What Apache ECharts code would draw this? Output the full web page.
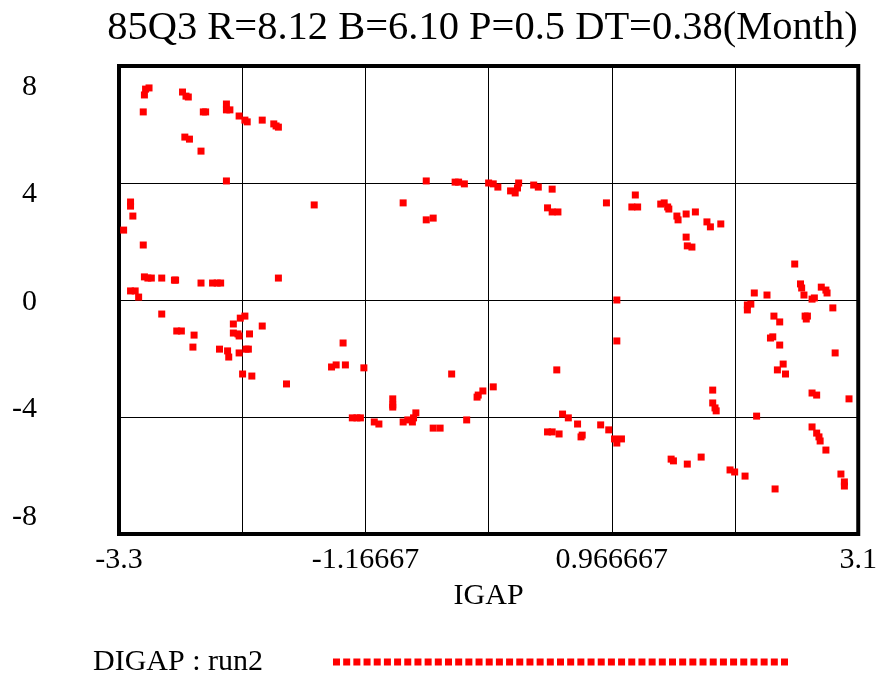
<!DOCTYPE html>
<html>
<head>
<meta charset="utf-8">
<script src="https://cdn.jsdelivr.net/npm/echarts@6/dist/echarts.min.js"></script>
<style>
html,body{margin:0;padding:0;background:#fff;}
#chart{width:880px;height:677px;}
</style>
</head>
<body>
<div id="chart"></div>
<script>
const titleText = '85Q3 R=8.12 B=6.10 P=0.5 DT=0.38(Month)';
const seriesName = 'DIGAP : run2';
const xName = 'IGAP';
const xMin = -3.3, xMax = 3.1, xSteps = 6;
const yMin = -8, yMax = 8, yStep = 4;

const IGAP = [
-3.07,-3.04,-3.08,-3.09,-2.75,-2.72,-2.70,-2.57,-2.55,-2.37,
-2.37,-2.34,-2.26,-2.21,-2.19,-2.06,-1.96,-1.94,-1.92,-2.73,
-2.69,-2.59,-2.37,-1.61,-3.20,-3.20,-3.18,-3.26,-3.09,-3.08,
-3.05,-3.02,-2.93,-2.82,-2.81,-2.59,-2.49,-2.45,-2.42,-1.92,
-3.20,-3.16,-3.13,-0.64,-0.39,-0.36,-0.31,-0.10,-0.06,-0.02,
0.09,0.13,0.15,0.16,0.29,0.33,0.45,-0.84,-0.64,-0.58,
0.41,0.45,0.50,0.92,1.17,1.14,1.19,1.39,1.42,1.45,
1.46,1.53,1.54,1.61,1.69,1.79,1.82,1.91,1.61,1.62,
1.66,2.55,2.60,2.61,2.63,2.78,2.82,2.83,2.20,2.31,
2.70,2.72,1.01,1.01,2.14,2.17,2.14,2.88,2.37,2.42,
2.64,2.66,2.65,2.34,2.36,2.42,2.90,2.45,2.40,2.47,
2.70,2.74,3.02,1.84,1.84,1.86,1.87,2.22,0.94,0.99,
1.01,1.05,2.70,2.74,2.76,2.77,2.82,1.48,1.50,1.62,
1.74,1.99,2.03,2.12,2.38,2.95,2.98,2.98,-2.93,-2.80,
-2.76,-2.65,-2.66,-2.31,-2.25,-2.21,-2.06,-2.31,-2.27,-2.26,
-2.17,-2.43,-2.36,-2.35,-2.26,-2.20,-2.18,-2.23,-2.15,-1.85,
-1.36,-1.46,-1.42,-1.34,-1.18,-1.28,-1.24,-1.21,-0.42,-0.93,
-0.93,-0.93,-1.09,-1.05,-0.84,-0.80,-0.76,-0.75,-0.73,-0.58,
-0.52,-0.29,-0.20,-0.19,-0.15,-0.06,0.49,0.54,0.59,0.67,
0.41,0.45,0.51,0.70,0.71,0.87
];
const DIGAP = [
7.21,7.25,7.01,6.43,7.11,6.97,6.94,6.43,6.43,6.70,
6.50,6.50,6.29,6.15,6.09,6.15,6.02,5.95,5.91,5.57,
5.50,5.09,4.07,3.25,3.35,3.21,2.87,2.39,1.88,0.79,
0.75,0.75,0.75,0.68,0.68,0.58,0.58,0.58,0.58,0.75,
0.31,0.31,0.10,4.07,4.03,4.03,3.97,4.00,3.97,3.86,
3.73,3.66,3.83,4.00,3.93,3.86,3.79,3.32,2.74,2.80,
3.15,3.01,3.01,3.32,3.59,3.18,3.18,3.28,3.32,3.18,
3.11,2.87,2.74,2.94,3.01,2.67,2.50,2.60,2.15,1.85,
1.81,1.23,0.55,0.41,0.17,0.44,0.34,0.24,0.24,0.17,
0.03,0.07,0.00,-1.40,-0.17,-0.14,-0.34,-0.27,-0.55,-0.75,
-0.55,-0.55,-0.65,-1.30,-1.26,-1.54,-1.81,-2.19,-2.39,-2.53,
-3.18,-3.25,-3.38,-3.08,-3.52,-3.69,-3.79,-3.97,-4.44,-4.75,
-4.89,-4.75,-4.34,-4.55,-4.68,-4.82,-5.13,-5.44,-5.50,-5.61,
-5.37,-5.81,-5.88,-6.02,-6.46,-5.95,-6.22,-6.36,-0.48,-1.06,
-1.06,-1.20,-1.61,-0.82,-0.62,-0.55,-0.89,-1.13,-1.16,-1.23,
-1.16,-1.68,-1.74,-1.95,-1.81,-1.68,-1.68,-2.53,-2.60,-2.87,
-1.47,-2.29,-2.22,-2.22,-2.32,-4.03,-4.03,-4.03,-2.53,-3.38,
-3.59,-3.66,-4.17,-4.24,-4.17,-4.10,-4.17,-4.03,-3.86,-4.38,
-4.38,-4.10,-3.32,-3.25,-3.11,-2.97,-2.39,-3.90,-4.03,-4.24,
-4.51,-4.51,-4.58,-4.68,-4.62,-4.27
];

const FONT = '"Liberation Serif", "Times New Roman", serif';
const RED = '#ff0000';
const xStep = (xMax - xMin) / xSteps;

// dotted legend icon
let iconPath = 'path://';
const nDots = 45;
for (let i = 0; i < nDots; i++) {
  const x0 = (i * (455 - 7) / (nDots - 1)).toFixed(2);
  iconPath += 'M' + x0 + ',0h7v7h-7z';
}

const chart = echarts.init(document.getElementById('chart'), null, {renderer: 'canvas'});
chart.setOption({
  animation: false,
  backgroundColor: '#ffffff',
  title: {
    text: titleText,
    left: 477.5, top: 3, textAlign: 'center',
    textStyle: {fontFamily: FONT, fontSize: 40.5, fontWeight: 'normal', color: '#000'}
  },
  legend: {
    left: 88, top: 642,
    align: 'right',
    itemWidth: 455, itemHeight: 7,
    icon: iconPath,
    data: [{name: seriesName, icon: iconPath, itemStyle: {color: RED, opacity: 1}}],
    textStyle: {fontFamily: FONT, fontSize: 30, color: '#000', padding: [0, 65, 0, 0]}
  },
  grid: [
    {left: 119, right: 21, top: 66, bottom: 143, show: true, borderColor: '#000', borderWidth: 4, backgroundColor: 'transparent', containLabel: false},
    {left: 119, right: 21, top: 87, bottom: 160, show: false, containLabel: false}
  ],
  xAxis: [
    {
      gridIndex: 0, type: 'value', min: xMin, max: xMax, interval: xStep,
      name: xName, nameLocation: 'middle', nameGap: 47,
      nameTextStyle: {fontFamily: FONT, fontSize: 30, color: '#000'},
      axisLine: {show: false}, axisTick: {show: false},
      splitLine: {show: true, lineStyle: {color: '#000', width: 1}},
      axisLabel: {
        margin: 11, fontFamily: FONT, fontSize: 30, color: '#000',
        showMinLabel: true, showMaxLabel: true,
        formatter: function (v) {
          const k = (v - xMin) / xStep;
          const r = Math.round(k);
          if (Math.abs(k - r) > 1e-6 || r % 2 !== 0) return '';
          return String(Number(v.toPrecision(6)));
        }
      }
    },
    {gridIndex: 1, type: 'value', min: xMin, max: xMax, show: false}
  ],
  yAxis: [
    {
      gridIndex: 0, type: 'value', min: yMin, max: yMax, interval: yStep,
      axisLine: {show: false}, axisTick: {show: false}, axisLabel: {show: false},
      splitLine: {show: true, lineStyle: {color: '#000', width: 1}}
    },
    {
      gridIndex: 1, type: 'value', min: yMin, max: yMax, interval: yStep,
      axisLine: {show: false}, axisTick: {show: false}, splitLine: {show: false},
      axisLabel: {margin: 82, fontFamily: FONT, fontSize: 30, color: '#000'}
    }
  ],
  series: [{
    name: seriesName,
    type: 'scatter',
    xAxisIndex: 0, yAxisIndex: 0,
    symbol: 'rect', symbolSize: 7,
    itemStyle: {color: RED, opacity: 1},
    data: IGAP.map((x, i) => [x, DIGAP[i]])
  }]
});
</script>
</body>
</html>
